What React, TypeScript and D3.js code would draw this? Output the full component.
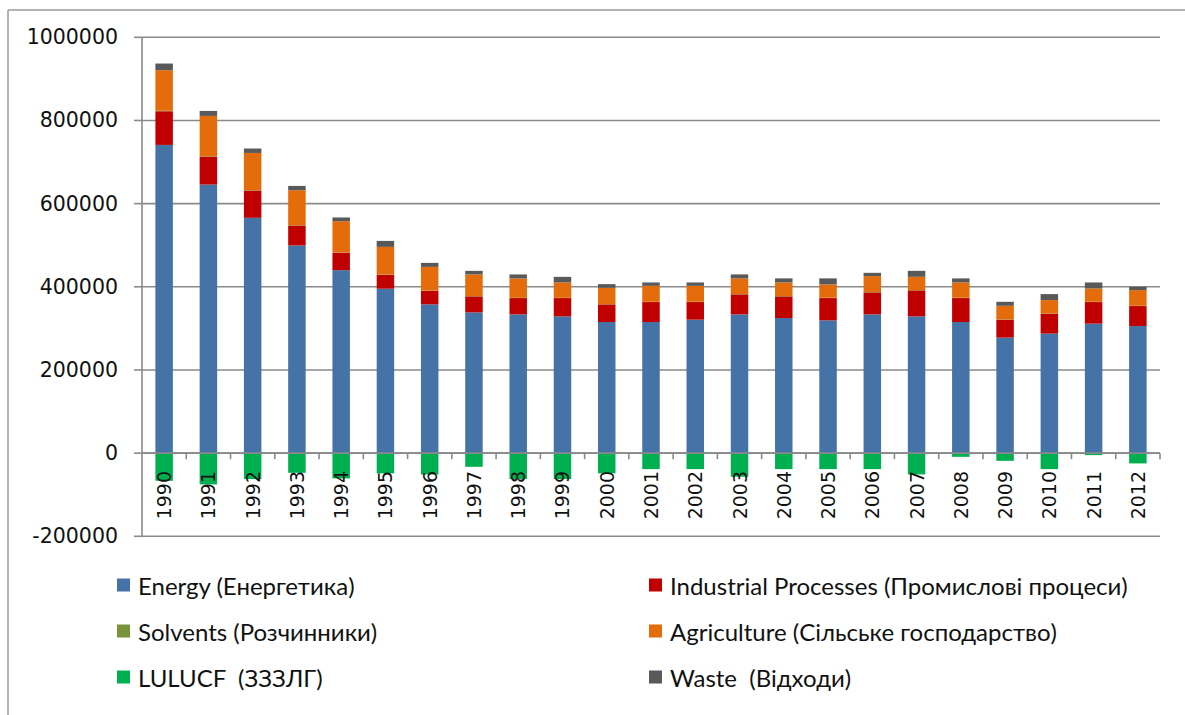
import React from "react";
import * as d3 from "d3";

const years = ["1990","1991","1992","1993","1994","1995","1996","1997","1998","1999","2000","2001","2002","2003","2004","2005","2006","2007","2008","2009","2010","2011","2012"];
const energy = [741200, 645900, 565900, 499400, 440000, 395400, 357700, 338500, 333700, 328900, 315300, 315300, 321000, 333700, 324900, 319300, 333700, 328900, 315300, 277800, 287400, 311400, 305600];
const industrial = [81000, 67200, 65600, 48000, 42000, 33700, 32900, 38500, 39200, 44000, 42400, 48000, 42300, 48100, 52100, 53600, 52900, 62500, 57600, 43200, 48000, 51900, 48100];
const solvents = [1100, 1000, 900, 800, 700, 700, 600, 600, 600, 600, 600, 600, 600, 700, 700, 700, 700, 700, 700, 600, 600, 600, 600];
const agriculture = [97600, 96800, 89500, 84100, 75000, 66200, 56700, 52100, 46600, 36900, 39200, 38400, 38400, 37700, 32800, 32100, 38400, 31900, 36900, 32700, 32000, 32100, 37700];
const lulucf = [-66500, -75200, -62400, -47300, -60800, -48700, -51200, -32900, -62400, -62400, -48700, -38400, -38400, -56800, -38400, -38400, -38400, -51200, -8900, -18500, -38400, -4800, -24700];
const waste = [16000, 12000, 10600, 10300, 9000, 14400, 9600, 8600, 9600, 13500, 8900, 8100, 8100, 9600, 9700, 14500, 7900, 14400, 9700, 9600, 14400, 14400, 7900];
const yTicks = [-200000, 0, 200000, 400000, 600000, 800000, 1000000];

const seriesKeys = ["energy", "industrial", "solvents", "agriculture", "lulucf", "waste"];
const seriesLabels = [
  "Energy (Енергетика)",
  "Industrial Processes (Промислові процеси)",
  "Solvents (Розчинники)",
  "Agriculture (Сільське господарство)",
  "LULUCF  (ЗЗЗЛГ)",
  "Waste  (Відходи)",
];
const seriesColors = ["#4572A7", "#C00000", "#77933C", "#E46C0A", "#00B050", "#595959"];
const legendOrder = [0, 1, 2, 3, 4, 5];

export default function App() {
  const W = 1185, H = 715;
  const left = 142, right = 1160, top = 37.3, bottom = 536.3;

  const rows = years.map((y, i) => ({
    year: y,
    energy: energy[i],
    industrial: industrial[i],
    solvents: solvents[i],
    agriculture: agriculture[i],
    lulucf: lulucf[i],
    waste: waste[i],
  }));

  const stacked = d3.stack<any>().keys(seriesKeys).offset(d3.stackOffsetDiverging)(rows);

  const x = d3.scaleBand().domain(years).range([left, right]).paddingInner(0.605).paddingOuter(0.3025);
  const y = d3.scaleLinear().domain([-200000, 1000000]).range([bottom, top]);
  const step = x.step();
  const y0 = y(0);

  const gridColor = "#8a8a8a";

  return (
    <svg width={W} height={H} style={{ position: "absolute", left: 0, top: 0, background: "#fff" }}>
      <rect x={0} y={0} width={W} height={H} fill="#fff" />
      {/* outer chart border */}
      <line x1={8} y1={10} x2={W} y2={10} stroke="#9a9a9a" strokeWidth={1.5} />
      <line x1={8} y1={10} x2={8} y2={H} stroke="#9a9a9a" strokeWidth={1.5} />

      {/* gridlines */}
      {yTicks.map((t) => (
        <line key={"g" + t} x1={left} x2={right} y1={y(t)} y2={y(t)} stroke={gridColor} strokeWidth={1.6} />
      ))}
      {/* y axis */}
      <line x1={left} x2={left} y1={top} y2={bottom} stroke={gridColor} strokeWidth={1.6} />
      {yTicks.map((t) => (
        <g key={"t" + t}>
          <line x1={left - 8} x2={left} y1={y(t)} y2={y(t)} stroke={gridColor} strokeWidth={1.6} />
          <text x={118} y={y(t)} textAnchor="end" dominantBaseline="central" fontFamily="'DejaVu Sans', Verdana, sans-serif" fontSize={20.5} fill="#111">
            {t}
          </text>
        </g>
      ))}

      {/* bars */}
      {stacked.map((s, si) => (
        <g key={s.key} fill={seriesColors[si]}>
          {s.map((d, i) => {
            const yA = y(d[1]);
            const yB = y(d[0]);
            const h = Math.abs(yB - yA);
            if (h <= 0) return null;
            return <rect key={i} x={x(years[i])!} y={Math.min(yA, yB)} width={x.bandwidth()} height={h} />;
          })}
        </g>
      ))}

      {/* category axis at zero */}
      <line x1={left} x2={right} y1={y0} y2={y0} stroke={gridColor} strokeWidth={1.6} />
      {years.map((yr, i) => (
        <line key={"ct" + yr} x1={left + step * (i + 1)} x2={left + step * (i + 1)} y1={y0} y2={y0 + 6} stroke={gridColor} strokeWidth={1.6} />
      ))}
      {years.map((yr) => {
        const cx = x(yr)! + x.bandwidth() / 2;
        return (
          <text key={"yl" + yr} transform={`translate(${cx},${471}) rotate(-90)`} textAnchor="end" dominantBaseline="central" fontFamily="'DejaVu Sans', Verdana, sans-serif" fontSize={19} fill="#111">
            {yr}
          </text>
        );
      })}

      {/* legend */}
      {legendOrder.map((si, k) => {
        const col = k % 2;
        const row = Math.floor(k / 2);
        const mx = col === 0 ? 117 : 649;
        const my = 585 + row * 46;
        return (
          <g key={"lg" + si}>
            <rect x={mx} y={my - 6.5} width={13} height={13} fill={seriesColors[si]} />
            <text x={mx + 21} y={my} dominantBaseline="central" fontFamily="Lato, 'Open Sans', sans-serif" fontSize={24} fill="#111" style={{ whiteSpace: "pre" }}>
              {seriesLabels[si]}
            </text>
          </g>
        );
      })}
    </svg>
  );
}
